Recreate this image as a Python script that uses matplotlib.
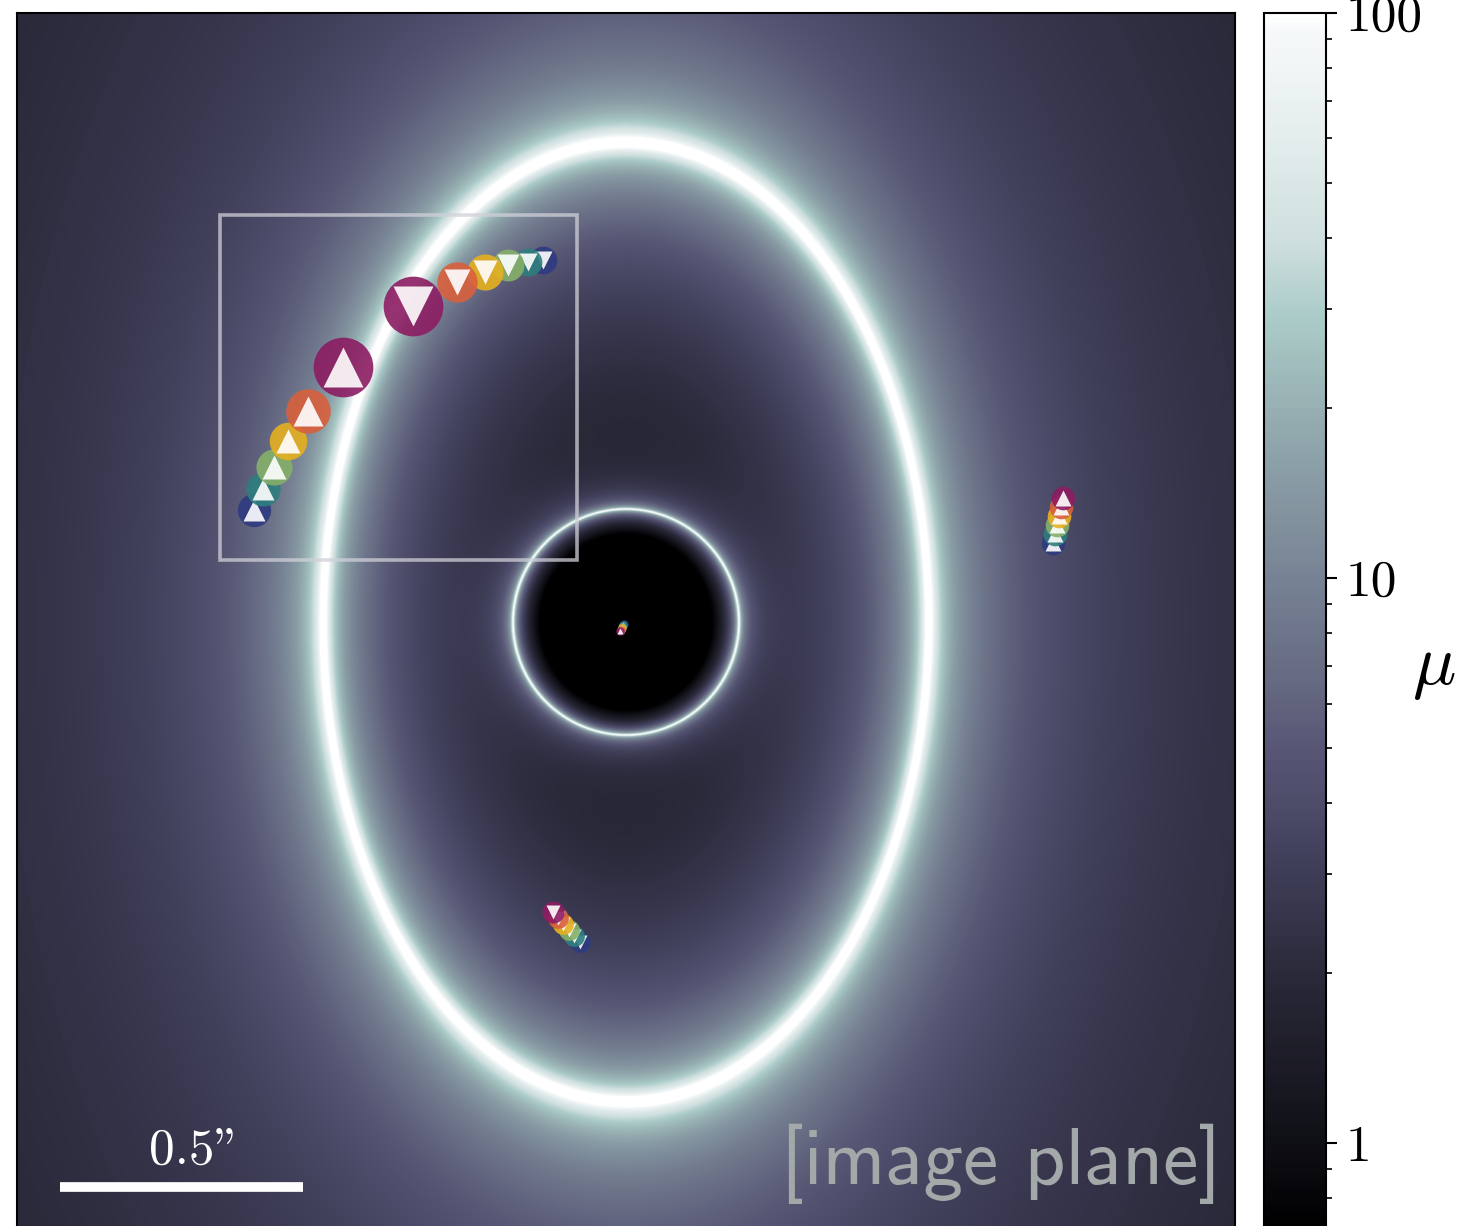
import numpy as np
import matplotlib
matplotlib.use('Agg')
import matplotlib.pyplot as plt
from matplotlib.colors import LinearSegmentedColormap, LogNorm
from matplotlib.patches import Rectangle

plt.rcParams['mathtext.fontset'] = 'cm'


# lens model, arcsec
field = 1.25                 # half width of the map
tang_axes = (0.621, 0.984)   # semi-axes of the tangential critical curve
rad_radius = 0.232           # radius of the radial critical curve

# source colours (same order in every image group)
colors = ['#2e3b80', '#2e7f7e', '#86b06a', '#e6b020', '#d8603c', '#8c1c62']

# image A: left arc
a_x = [-0.764, -0.745, -0.723, -0.694, -0.653, -0.581]
a_y = [0.230, 0.273, 0.318, 0.372, 0.433, 0.523]
a_size = [24, 24.5, 26, 27, 32, 43]

# image B: upper arc
b_x = [-0.170, -0.201, -0.242, -0.289, -0.347, -0.437]
b_y = [0.743, 0.739, 0.733, 0.718, 0.698, 0.649]
b_size = [20, 20, 23, 26, 29, 43]

# image C: right
c_x = [0.877, 0.880, 0.885, 0.889, 0.893, 0.897]
c_y = [0.162, 0.181, 0.199, 0.218, 0.236, 0.255]
c_size = [17, 17, 17, 17, 17, 17]

# image D: bottom
d_x = [-0.094, -0.107, -0.117, -0.129, -0.140, -0.150]
d_y = [-0.657, -0.645, -0.632, -0.620, -0.608, -0.595]
d_size = [15, 15, 15, 15, 15, 16]

# image E: central (demagnified)
e_x = [-0.005, -0.006, -0.008, -0.009, -0.011, -0.013]
e_y = [-0.004, -0.007, -0.010, -0.013, -0.016, -0.019]
e_size = [6, 6, 6, 6, 6, 6]

cb_ticks = [1, 10, 100]
cb_labels = ['1', '10', '100']


# magnification map
n = 1600
xs = np.linspace(-field, field, n)
X, Y = np.meshgrid(xs, xs)
r = np.hypot(X, Y)
rho = np.hypot(X / tang_axes[0], Y / tang_axes[1])
lam_t = np.where(rho >= 1, 1 - rho ** -0.8, rho - 1)
lam_r = 1 - (rad_radius / r) ** 4
mu = 1 / np.abs(lam_t * lam_r + 1e-12)

stops = [(0.0, '#000000'), (0.01, '#020204'), (0.059, '#0c0c12'),
         (0.125, '#1a1a24'), (0.19, '#262533'), (0.256, '#35344a'),
         (0.321, '#454460'), (0.387, '#555473'), (0.452, '#666a82'),
         (0.531, '#768193'), (0.626, '#8a9ea6'), (0.688, '#9ab4b5'),
         (0.751, '#aacbc8'), (0.814, '#cfdfdf'), (0.908, '#e6eeee'),
         (0.987, '#f6f9fa'), (1.0, '#ffffff')]
cmap = LinearSegmentedColormap.from_list('mu', stops)
cmap.set_over('#ffffff')
cmap.set_under('#000000')

W, H = 1471, 1226
fig = plt.figure(figsize=(W / 100, H / 100), dpi=100)
ax = fig.add_axes([17 / W, -5 / H, 1218 / W, 1218 / H])
cax = fig.add_axes([1264 / W, -5 / H, 62 / W, 1218 / H])

im = ax.imshow(mu, origin='lower', extent=[-field, field, -field, field],
               cmap=cmap, norm=LogNorm(vmin=0.7, vmax=100),
               interpolation='bilinear')


def draw_images(xv, yv, sizes, tri):
    for x, y, s, c in zip(xv, yv, sizes, colors):
        ax.plot(x, y, 'o', ms=s, color=c, alpha=0.9, mec='none')
        ax.plot(x, y, tri, ms=0.66 * s, color='white', alpha=0.9, mec='none')


draw_images(a_x, a_y, a_size, '^')
draw_images(b_x, b_y, b_size, 'v')
draw_images(c_x, c_y, c_size, '^')
draw_images(d_x, d_y, d_size, 'v')
draw_images(e_x, e_y, e_size, '^')

# zoom box
ax.add_patch(Rectangle((-0.833, 0.127), 0.7324, 0.708, fill=False,
                       ec='#d0d0d8', alpha=0.75, lw=2.6))

# scale bar
ax.plot([-1.162, -0.662], [-1.160, -1.160], color='white', lw=7,
        solid_capstyle='butt')
ax.text(-0.885, -1.112, '0.5"', color='white', fontsize=37,
        family='cmr10', ha='center', va='baseline')

ax.text(1.222, -1.153, '[image plane]', color='#a3a8a8', fontsize=57,
        family='cmss10', ha='right', va='baseline')

ax.set_xlim(-field, field)
ax.set_ylim(-field, field)
ax.set_xticks([])
ax.set_yticks([])
for sp in ax.spines.values():
    sp.set_linewidth(1.5)

cb = fig.colorbar(im, cax=cax)
cb.set_ticks(cb_ticks)
cb.set_ticklabels(cb_labels)
cb.outline.set_linewidth(1.5)
cax.tick_params(which='major', length=8, width=1.5, labelsize=37, pad=6)
cax.tick_params(which='minor', length=4, width=1.2)
for lab in cax.get_yticklabels():
    lab.set_family('cmr10')
fig.text(1434 / W, 1 - 668 / H, r'$\mu$', fontsize=52, ha='center', va='center')

fig.savefig('out.png', dpi=100)
